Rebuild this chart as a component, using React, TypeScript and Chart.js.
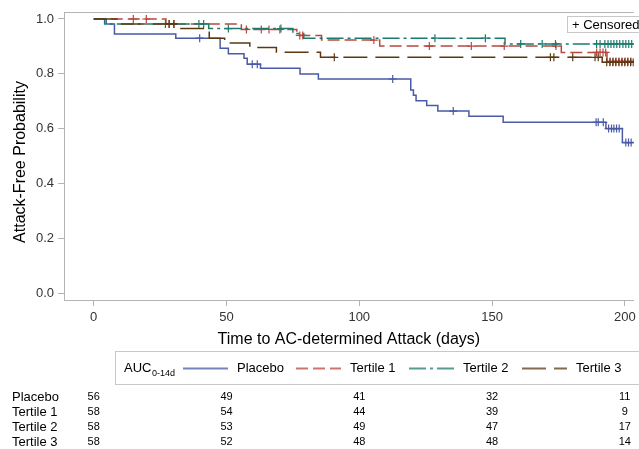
import React, { useEffect, useRef } from "react";
import { Chart, registerables } from "chart.js";

Chart.register(...registerables);

const W = 639;
const H = 449;
const FONT = "'Liberation Sans', Arial, Helvetica, sans-serif";

// ---- axes ----
const xTickValues = [0, 50, 100, 150, 200];
const yTickValues = [0, 0.2, 0.4, 0.6, 0.8, 1.0];
const X_MIN = -11.2;
const X_MAX = 203.4;
const Y_MIN = -0.0255;
const Y_MAX = 1.0255;
const followUpEnd = 206;

// ---- Kaplan-Meier estimates ----
const placeboEventTimes = [4.7, 7.8, 30.9, 47.6, 50.7, 56.6, 57.8, 62.8, 77.7, 84.6, 119.4, 120.4, 121.4, 125.4, 129.6, 141.3, 154.2, 192.9, 199.1];
const placeboSurv = [0.982, 0.945, 0.93, 0.893, 0.873, 0.857, 0.835, 0.82, 0.799, 0.781, 0.741, 0.722, 0.702, 0.684, 0.664, 0.645, 0.623, 0.6, 0.549];
const placeboCensor = [39.9, 59.7, 61.6, 112.6, 135.4, 189.2, 190.0, 191.9, 193.9, 195.0, 195.9, 196.9, 197.9, 200.4, 201.4, 202.4];

const tertile1EventTimes = [27.2, 55.6, 76.5, 85.8, 107.7, 176.1, 193.3];
const tertile1Surv = [0.982, 0.962, 0.94, 0.923, 0.901, 0.878, 0.845];
const tertile1Censor = [14.9, 19.8, 28.4, 30.2, 57.5, 63.1, 66.0, 70.1, 77.6, 78.7, 105.5, 126.4, 142.2, 154.6, 174.1, 189.4, 190.7, 191.8, 192.8, 194.5, 195.6, 196.7, 197.8, 199.0, 200.1, 201.2, 202.3];

const tertile2EventTimes = [4.1, 43.3, 75.0, 79.1, 154.9];
const tertile2Surv = [0.982, 0.965, 0.947, 0.93, 0.909];
const tertile2Censor = [27.0, 39.6, 41.4, 50.7, 70.5, 128.5, 147.5, 160.8, 168.9, 173.9, 189.4, 190.7, 192.5, 193.7, 194.8, 195.9, 197.0, 198.1, 199.3, 200.4, 201.5, 202.6];

const tertile3EventTimes = [10.1, 31.7, 43.5, 49.3, 58.8, 68.8, 85.4, 191.5];
const tertile3Surv = [0.982, 0.965, 0.93, 0.912, 0.896, 0.879, 0.86, 0.842];
const tertile3Censor = [28.4, 30.2, 90.6, 172.0, 173.3, 180.4, 188.8, 190.0, 193.2, 194.4, 195.5, 196.6, 197.8, 198.9, 200.0, 201.1, 202.2, 203.2];

// ---- number at risk ----
const riskTimes = [0, 50, 100, 150, 200];
const placeboRisk = [56, 49, 41, 32, 11];
const tertile1Risk = [58, 54, 44, 39, 9];
const tertile2Risk = [58, 53, 49, 47, 17];
const tertile3Risk = [58, 52, 48, 48, 14];

const groupNames = ["Placebo", "Tertile 1", "Tertile 2", "Tertile 3"];
const groupColors = ["#4a5aa6", "#b8473d", "#1d7b6e", "#5c3812"];
const groupDashes: number[][] = [[], [12, 5], [17, 4, 3, 4], [24, 8]];

const groups = [
  { times: placeboEventTimes, surv: placeboSurv, censor: placeboCensor, risk: placeboRisk },
  { times: tertile1EventTimes, surv: tertile1Surv, censor: tertile1Censor, risk: tertile1Risk },
  { times: tertile2EventTimes, surv: tertile2Surv, censor: tertile2Censor, risk: tertile2Risk },
  { times: tertile3EventTimes, surv: tertile3Surv, censor: tertile3Censor, risk: tertile3Risk },
];

function stepPoints(times: number[], surv: number[]) {
  const pts = [{ x: 0, y: 1 }];
  times.forEach((t, i) => pts.push({ x: t, y: surv[i] }));
  pts.push({ x: followUpEnd, y: surv[surv.length - 1] });
  return pts;
}

function survAt(times: number[], surv: number[], t: number) {
  let s = 1;
  for (let i = 0; i < times.length; i++) if (times[i] <= t) s = surv[i];
  return s;
}

const overlay = {
  id: "overlay",
  afterDraw(chart: any) {
    const { ctx, chartArea } = chart;
    const xs = chart.scales.x;
    ctx.save();
    // top frame line
    ctx.strokeStyle = "#b4b4b4";
    ctx.lineWidth = 1;
    ctx.beginPath();
    ctx.moveTo(chartArea.left, chartArea.top + 0.5);
    ctx.lineTo(chartArea.right, chartArea.top + 0.5);
    ctx.stroke();

    ctx.fillStyle = "#000";
    // y title
    ctx.save();
    ctx.translate(21, 162);
    ctx.rotate(-Math.PI / 2);
    ctx.font = `16px ${FONT}`;
    ctx.textAlign = "center";
    ctx.textBaseline = "middle";
    ctx.fillText("Attack-Free Probability", 0, 0);
    ctx.restore();

    // x title
    ctx.font = `16px ${FONT}`;
    ctx.textAlign = "center";
    ctx.textBaseline = "middle";
    ctx.fillText("Time to AC-determined Attack (days)", (chartArea.left + chartArea.right) / 2, 340);

    // censored legend
    ctx.fillStyle = "#fff";
    ctx.fillRect(567.5, 16.5, 80, 16);
    ctx.strokeStyle = "#c8c8c8";
    ctx.strokeRect(567.5, 16.5, 80, 16);
    ctx.fillStyle = "#000";
    ctx.font = `13px ${FONT}`;
    ctx.textAlign = "left";
    ctx.fillText("+ Censored", 572, 25);

    // main legend
    ctx.strokeStyle = "#c8c8c8";
    ctx.strokeRect(115.5, 351.5, 530, 33);
    const ly = 368.5;
    ctx.fillStyle = "#000";
    ctx.font = `13px ${FONT}`;
    ctx.textAlign = "left";
    ctx.fillText("AUC", 124, ly);
    const aw = ctx.measureText("AUC").width;
    ctx.font = `9px ${FONT}`;
    ctx.fillText("0-14d", 124 + aw + 0.5, ly + 5);
    const sampleX = [183, 296, 409, 522];
    sampleX.forEach((sx, i) => {
      ctx.strokeStyle = groupColors[i];
      ctx.globalAlpha = 0.75;
      ctx.lineWidth = 2;
      ctx.setLineDash(groupDashes[i]);
      ctx.beginPath();
      ctx.moveTo(sx, ly);
      ctx.lineTo(sx + 45, ly);
      ctx.stroke();
      ctx.setLineDash([]);
      ctx.globalAlpha = 1;
      ctx.fillStyle = "#000";
      ctx.font = `13px ${FONT}`;
      ctx.fillText(groupNames[i], sx + 54, ly);
    });

    // risk table
    const rowY = [397, 412, 427, 442];
    groups.forEach((g, i) => {
      ctx.font = `13px ${FONT}`;
      ctx.textAlign = "left";
      ctx.fillStyle = "#000";
      ctx.fillText(groupNames[i], 12, rowY[i]);
      ctx.font = `11px ${FONT}`;
      ctx.textAlign = "center";
      riskTimes.forEach((t, j) => {
        ctx.fillText(String(g.risk[j]), xs.getPixelForValue(t), rowY[i]);
      });
    });
    ctx.restore();
  },
};

export default function App() {
  const ref = useRef<HTMLCanvasElement | null>(null);
  useEffect(() => {
    if (!ref.current) return;
    Chart.defaults.font.family = FONT;
    const datasets: any[] = [];
    groups.forEach((g, i) => {
      datasets.push({
        label: groupNames[i],
        data: stepPoints(g.times, g.surv),
        borderColor: groupColors[i],
        borderWidth: 1.5,
        borderDash: groupDashes[i],
        stepped: "before",
        pointRadius: 0,
        fill: false,
        order: 10 - i,
      });
      datasets.push({
        label: groupNames[i] + " censored",
        data: g.censor.map((t) => ({ x: t, y: survAt(g.times, g.surv, t) })),
        borderColor: groupColors[i],
        backgroundColor: groupColors[i],
        showLine: false,
        pointStyle: "cross",
        pointRadius: 4,
        borderWidth: 1.2,
        order: 10 - i,
      });
    });
    const chart = new Chart(ref.current, {
      type: "line",
      data: { datasets },
      options: {
        responsive: false,
        animation: false,
        devicePixelRatio: 1,
        layout: { padding: { top: 12, left: 0, right: 0, bottom: 0 } },
        plugins: { legend: { display: false }, tooltip: { enabled: false } },
        scales: {
          x: {
            type: "linear",
            min: X_MIN,
            max: X_MAX,
            afterBuildTicks: (s: any) => {
              s.ticks = xTickValues.map((v) => ({ value: v }));
            },
            afterFit: (s: any) => {
              s.height = 149;
              s.paddingLeft = 0;
              s.paddingRight = 0;
            },
            ticks: { color: "#333", font: { size: 13, family: FONT }, padding: 4, maxRotation: 0, autoSkip: false },
            grid: { drawOnChartArea: false, drawTicks: true, tickLength: 6, color: "#b4b4b4" },
            border: { display: true, color: "#b4b4b4" },
          },
          y: {
            type: "linear",
            min: Y_MIN,
            max: Y_MAX,
            afterBuildTicks: (s: any) => {
              s.ticks = yTickValues.map((v) => ({ value: v }));
            },
            afterFit: (s: any) => {
              s.width = 64;
              s.paddingTop = 0;
              s.paddingBottom = 0;
            },
            ticks: {
              color: "#333",
              font: { size: 13, family: FONT },
              padding: 4,
              callback: (v: any) => Number(v).toFixed(1),
            },
            grid: { drawOnChartArea: false, drawTicks: true, tickLength: 6, color: "#b4b4b4" },
            border: { display: true, color: "#b4b4b4" },
          },
        },
      },
      plugins: [overlay],
    } as any);
    return () => chart.destroy();
  }, []);
  return (
    <div style={{ position: "fixed", left: 0, top: 0, width: W, height: H, background: "#fff" }}>
      <canvas ref={ref} width={W} height={H} style={{ display: "block", width: W, height: H }} />
    </div>
  );
}
